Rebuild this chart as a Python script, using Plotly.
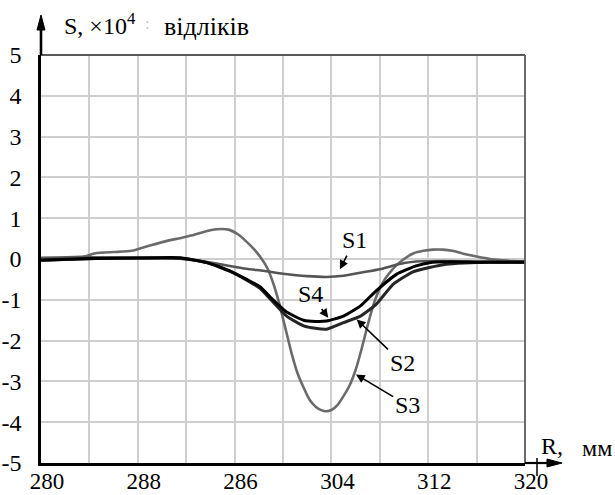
import plotly.graph_objects as go

# ---- data ----
s1_x = [280, 284, 288, 290, 292, 293.5, 294.5, 295.6, 297, 298.4, 300, 302, 303.6, 305, 306.5, 308, 309, 310, 311, 313, 316, 320]
s1_y = [0.02, 0.04, 0.03, 0.02, 0.0, -0.06, -0.11, -0.17, -0.24, -0.29, -0.36, -0.42, -0.44, -0.41, -0.33, -0.25, -0.17, -0.1, -0.06, -0.05, -0.06, -0.06]

s2_x = [280, 283, 286, 289, 291.5, 293.7, 295.6, 297, 298.1, 299, 300.3, 301.7, 302.7, 303.6, 305, 306.4, 307.7, 309.1, 310.7, 312.1, 313.5, 315, 317, 320]
s2_y = [-0.03, 0.0, 0.02, 0.02, 0.02, -0.09, -0.3, -0.52, -0.72, -1.0, -1.4, -1.64, -1.7, -1.72, -1.56, -1.4, -1.11, -0.62, -0.32, -0.21, -0.13, -0.1, -0.08, -0.08]

s3_x = [280, 282, 283.5, 284.5, 286, 287.5, 289, 290.5, 291.5, 292.5, 293.5, 294.5, 295.5, 296.3, 297, 297.6, 298.2, 298.7,
        299.2, 299.7, 300.2, 300.7, 301.2, 301.7, 302.2, 302.7, 303.2, 303.6, 304, 304.5, 305, 305.5, 306, 306.5, 307, 307.5,
        308, 308.5, 309, 309.5, 310, 310.8, 311.6, 312.4, 313.2, 314, 314.9, 316, 317.1, 318.5, 320]
s3_y = [0.03, 0.04, 0.06, 0.14, 0.17, 0.2, 0.33, 0.45, 0.51, 0.58, 0.67, 0.73, 0.72, 0.6, 0.42, 0.24, 0.02, -0.22,
        -0.6, -1.1, -1.7, -2.3, -2.8, -3.15, -3.45, -3.62, -3.71, -3.73, -3.7, -3.58, -3.36, -3.1, -2.72, -2.2, -1.62, -1.1,
        -0.72, -0.46, -0.27, -0.12, 0.0, 0.14, 0.2, 0.23, 0.23, 0.2, 0.13, 0.06, 0.0, -0.04, -0.06]

s4_x = [280, 283, 286, 289, 291.5, 293.7, 295.6, 297, 298.1, 299, 300.3, 301.7, 302.7, 303.6, 305, 306.4, 307.7, 309.4, 311, 312.1, 314, 316, 318, 320]
s4_y = [-0.03, 0.0, 0.02, 0.03, 0.03, -0.09, -0.29, -0.5, -0.68, -0.95, -1.3, -1.5, -1.53, -1.52, -1.4, -1.15, -0.78, -0.37, -0.17, -0.09, -0.07, -0.08, -0.08, -0.08]

x_tickvals = [280, 288, 296, 304, 312, 320]
x_ticktext = ["280", "288", "286", "304", "312", "320"]
y_tickvals = [-5, -4, -3, -2, -1, 0, 1, 2, 3, 4, 5]
y_ticktext = ["-5", "-4", "-3", "-2", "-1", "0", "1", "2", "3", "4", "5"]

series_names = ["S1", "S2", "S3", "S4"]
label_tips = {"S1": (304.7, -0.25), "S2": (306.09, -1.48), "S3": (306.03, -2.83), "S4": (303.74, -1.44)}
label_offsets = {"S1": (15, -29), "S2": (46, 44), "S3": (52, 31), "S4": (-18, -24)}

SERIF = "Liberation Serif"

# plot area in pixels (for paper-coordinate shapes)
PW, PH = 484.0, 408.0

fig = go.Figure()
styles = {
    "S3": dict(color="#6b6b6b", width=2.6),
    "S1": dict(color="#555555", width=2.6),
    "S2": dict(color="#262626", width=3),
    "S4": dict(color="#000000", width=3),
}
data = {"S1": (s1_x, s1_y), "S2": (s2_x, s2_y), "S3": (s3_x, s3_y), "S4": (s4_x, s4_y)}
for name in ["S3", "S1", "S2", "S4"]:
    xs, ys = data[name]
    fig.add_trace(go.Scatter(x=xs, y=ys, mode="lines", name=name,
                             line=dict(shape="spline", smoothing=0.5, **styles[name]),
                             showlegend=False, hoverinfo="skip"))

annotations = []
for name in series_names:
    tx, ty = label_tips[name]
    ax, ay = label_offsets[name]
    annotations.append(dict(x=tx, y=ty, xref="x", yref="y", text=name, showarrow=True,
                            ax=ax, ay=ay, arrowhead=2, arrowsize=1.1, arrowwidth=1.6,
                            arrowcolor="black", standoff=0, startstandoff=1,
                            font=dict(family=SERIF, size=24, color="black")))

# titles
annotations.append(dict(x=0.0434, y=1.076, xref="paper", yref="paper", xanchor="left", yanchor="middle",
                        text="S, ×10<sup>4</sup>", showarrow=False,
                        font=dict(family=SERIF, size=24, color="black")))
annotations.append(dict(x=0.211, y=1.076, xref="paper", yref="paper", xanchor="left", yanchor="middle",
                        text=":", showarrow=False, font=dict(family=SERIF, size=16, color="#c8c8c8")))
annotations.append(dict(x=0.250, y=1.069, xref="paper", yref="paper", xanchor="left", yanchor="middle",
                        text="відліків", showarrow=False,
                        font=dict(family=SERIF, size=26, color="black")))
annotations.append(dict(x=1.056, y=0.042, xref="paper", yref="paper", xanchor="center", yanchor="middle",
                        text="R,", showarrow=False, font=dict(family=SERIF, size=24, color="black")))
annotations.append(dict(x=1.149, y=0.037, xref="paper", yref="paper", xanchor="center", yanchor="middle",
                        text="мм", showarrow=False, font=dict(family=SERIF, size=24, color="black")))

# axis arrows as shapes
ya_tip = 1.098
ya_base = ya_tip - 15 / PH
ya_hw = 4 / PW
xa_tip = 1.0764
xa_base = xa_tip - 15 / PW
xa_hh = 4 / PH

shapes = [
    dict(type="line", xref="paper", yref="paper", x0=0, x1=1, y0=1, y1=1, line=dict(color="#5a5a5a", width=1.8)),
    dict(type="line", xref="paper", yref="paper", x0=1, x1=1, y0=0, y1=1, line=dict(color="#5a5a5a", width=1.8)),
    dict(type="line", xref="paper", yref="paper", x0=1.0248, x1=1.0248, y0=0.012, y1=-0.032,
         line=dict(color="black", width=1.5)),
    dict(type="line", xref="paper", yref="paper", x0=0, x1=0, y0=1, y1=ya_base + 0.005,
         line=dict(color="black", width=2.6)),
    dict(type="path", xref="paper", yref="paper",
         path=f"M 0,{ya_tip} L {-ya_hw},{ya_base} L {ya_hw},{ya_base} Z",
         fillcolor="black", line=dict(color="black", width=1)),
    dict(type="line", xref="paper", yref="paper", x0=1, x1=xa_base + 0.005, y0=0, y1=0,
         line=dict(color="black", width=2.2)),
    dict(type="path", xref="paper", yref="paper",
         path=f"M {xa_tip},0 L {xa_base},{xa_hh} L {xa_base},{-xa_hh} Z",
         fillcolor="black", line=dict(color="black", width=1)),
]

fig.update_layout(
    width=615, height=495,
    margin=dict(l=41, r=90, t=55, b=32, autoexpand=False),
    paper_bgcolor="white", plot_bgcolor="white",
    font=dict(family=SERIF, size=24, color="black"),
    annotations=annotations, shapes=shapes,
    xaxis=dict(range=[280, 320], tickvals=x_tickvals, ticktext=x_ticktext, automargin=False,
               showgrid=True, gridcolor="#cfcfcf", gridwidth=1.5,
               minor=dict(dtick=4, tick0=280, showgrid=True, gridcolor="#cfcfcf", gridwidth=1.5),
               showline=True, linecolor="black", linewidth=2.5, zeroline=False,
               ticks="", ticklabelshift=6, ticklabelstandoff=-4,
               tickfont=dict(family=SERIF, size=23, color="black")),
    yaxis=dict(range=[-5, 5], tickvals=y_tickvals, ticktext=y_ticktext, automargin=False,
               showgrid=True, gridcolor="#cfcfcf", gridwidth=1.5,
               showline=True, linecolor="black", linewidth=2.5, zeroline=False,
               ticks="", ticklabelstandoff=12,
               tickfont=dict(family=SERIF, size=24, color="black")),
)

fig.write_html("out.html", config={"displayModeBar": False},
               post_script="document.body.style.margin='0';document.body.style.padding='0';")
